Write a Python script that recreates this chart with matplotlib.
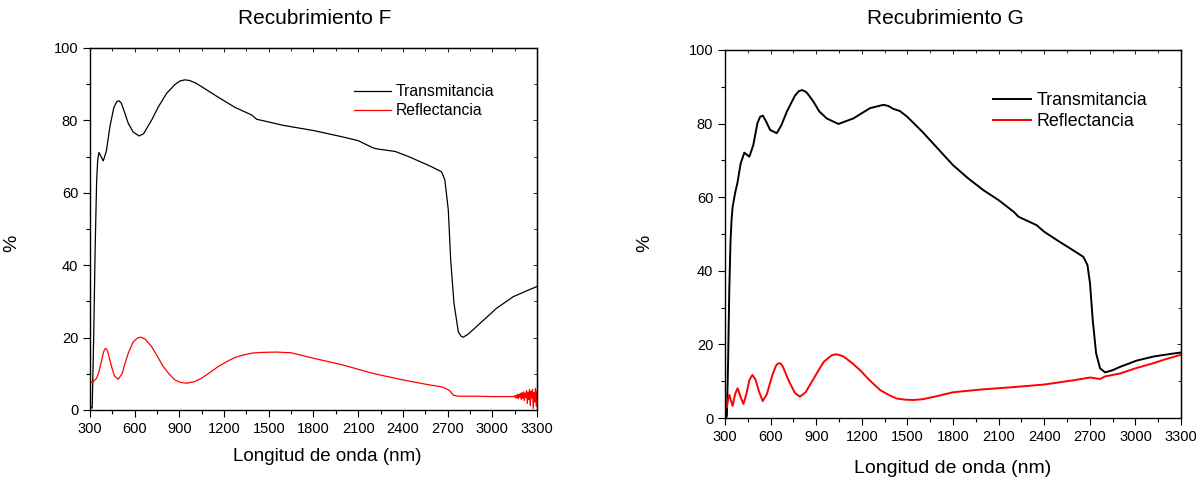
import numpy as np
import matplotlib
matplotlib.use("Agg")
import matplotlib.pyplot as plt
from matplotlib.ticker import MultipleLocator

plt.rcParams['font.family'] = ['Liberation Sans', 'DejaVu Sans']

# Recubrimiento F - transmitancia
wl_f_t = [300, 305, 315, 325, 335, 345, 352, 360, 372, 389, 410, 434, 460, 480, 495, 510,
          530, 557, 590, 629, 660, 714, 760, 815, 870, 905, 938, 970, 1010, 1050, 1161, 1273,
          1385, 1419, 1474, 1600, 1800, 2000, 2100, 2200, 2230, 2350, 2450, 2582, 2660, 2682,
          2705, 2721, 2743, 2772, 2790, 2805, 2840, 2917, 3029, 3141, 3253, 3300]
f_t = [1.0, 0.8, 0.5, 20.0, 45.0, 63.5, 69.0, 71.1, 70.2, 68.8, 71.5, 78.3, 83.5, 85.2, 85.4, 84.8,
       82.5, 79.2, 76.8, 75.7, 76.3, 80.1, 83.8, 87.5, 89.9, 90.9, 91.2, 91.0, 90.3, 89.3, 86.4, 83.6,
       81.5, 80.3, 79.8, 78.6, 77.2, 75.4, 74.4, 72.4, 72.1, 71.4, 69.8, 67.4, 65.8, 63.5,
       55.2, 41.4, 29.5, 21.6, 20.4, 20.1, 21.0, 23.9, 28.1, 31.3, 33.3, 34.1]

# Recubrimiento F - reflectancia
wl_f_r = [300, 316, 330, 345, 360, 374, 390, 398, 405, 412, 420, 445, 465, 490, 515, 535, 557, 590,
          620, 642, 670, 714, 750, 792, 830, 870, 910, 949, 1000, 1050, 1100, 1161, 1220,
          1273, 1330, 1385, 1450, 1550, 1650, 1800, 2000, 2200, 2400, 2582, 2660, 2690,
          2715, 2738, 2772, 2900, 3000, 3140,
          3145, 3150, 3155, 3160, 3165, 3170, 3175, 3180, 3185, 3190, 3195, 3200, 3205,
          3210, 3215, 3220, 3225, 3230, 3235, 3240, 3245, 3250, 3255, 3260, 3265, 3270,
          3275, 3280, 3285, 3290, 3295, 3300]
f_r = [8.0, 7.5, 8.2, 8.8, 10.5, 12.9, 15.8, 16.7, 17.0, 16.8, 16.0, 12.0, 9.3, 8.5, 10.0, 12.8, 15.7, 18.8,
       19.9, 20.1, 19.6, 17.5, 15.0, 12.0, 10.0, 8.3, 7.6, 7.4, 7.8, 8.8, 10.2, 12.0, 13.4,
       14.5, 15.2, 15.7, 15.9, 16.0, 15.8, 14.3, 12.4, 10.1, 8.3, 6.9, 6.4, 5.9,
       5.3, 4.1, 3.8, 3.8, 3.7, 3.7,
       3.7, 3.9, 3.4, 4.1, 3.3, 4.3, 3.1, 4.4, 3.5, 4.6, 2.9, 4.8, 3.2,
       5.0, 2.6, 4.7, 3.4, 5.3, 1.8, 4.9, 2.9, 5.6, 1.2, 5.1, 3.3, 5.7,
       0.4, 4.8, 2.2, 6.0, 1.0, 5.2]

# Recubrimiento G - transmitancia
wl_g_t = [300, 305, 312, 320, 328, 336, 343, 350, 366, 381, 403, 427, 445, 460, 486, 513,
          530, 548, 570, 596, 640, 670, 706, 760, 785, 805, 825, 840, 881, 920, 969, 1046, 1144,
          1254, 1342, 1374, 1407, 1451, 1500, 1600, 1700, 1800, 1900, 2000, 2100, 2200,
          2230, 2350, 2400, 2500, 2570, 2657, 2684, 2701, 2719, 2741, 2767, 2800, 2850,
          2899, 3008, 3118, 3228, 3300]
g_t = [0.0, 0.0, 0.5, 15.0, 35.0, 48.0, 54.0, 57.4, 61.1, 63.8, 69.2, 72.1, 71.5, 71.0, 74.2, 80.1,
       81.8, 82.2, 80.6, 78.3, 77.4, 79.5, 83.2, 87.6, 88.8, 89.1, 88.8, 88.3, 86.0, 83.3, 81.4, 79.9, 81.4,
       84.2, 85.1, 84.8, 84.0, 83.4, 81.8, 77.7, 73.2, 68.7, 65.1, 61.9, 59.2, 56.0,
       54.7, 52.4, 50.6, 47.9, 46.1, 43.8, 41.6, 36.6, 26.6, 17.6, 13.5, 12.4, 13.0,
       13.9, 15.6, 16.7, 17.4, 17.8]

# Recubrimiento G - reflectancia
wl_g_r = [300, 311, 320, 328, 337, 350, 366, 383, 400, 421, 440, 460, 480, 500, 525, 548,
          575, 610, 635, 645, 657, 668, 680, 720, 760, 793, 830, 870, 903, 950, 1000, 1015,
          1034, 1055, 1080, 1140, 1188, 1250, 1320, 1380, 1429, 1480, 1539, 1600, 1700, 1800,
          2000, 2200, 2400, 2600, 2701, 2767, 2800, 2899, 3000, 3118, 3200, 3300]
g_r = [2.6, 2.9, 5.0, 6.3, 5.0, 3.3, 6.5, 8.1, 6.0, 3.8, 6.5, 10.3, 11.7, 10.5, 7.0, 4.6,
       6.5, 11.5, 14.2, 14.7, 14.9, 14.7, 14.0, 10.0, 6.8, 5.8, 7.0, 9.8, 12.1, 15.3, 17.0, 17.2,
       17.3, 17.1, 16.7, 14.8, 13.0, 10.3, 7.6, 6.2, 5.3, 5.0, 4.9, 5.1, 6.0, 7.0,
       7.8, 8.4, 9.1, 10.3, 11.0, 10.6, 11.3, 12.1, 13.5, 14.9, 16.0, 17.2]

x_ticks = [300, 600, 900, 1200, 1500, 1800, 2100, 2400, 2700, 3000, 3300]
y_ticks = [0, 20, 40, 60, 80, 100]


def style_axes(ax, tick_size):
    ax.set_xlim(300, 3300)
    ax.set_ylim(0, 100)
    ax.set_xticks(x_ticks)
    ax.set_yticks(y_ticks)
    ax.xaxis.set_minor_locator(MultipleLocator(150))
    ax.yaxis.set_minor_locator(MultipleLocator(10))
    ax.tick_params(which='both', direction='out', labelsize=tick_size, width=0.8)
    ax.tick_params(which='major', length=5)
    ax.tick_params(which='minor', length=3)
    for sp in ax.spines.values():
        sp.set_linewidth(1.0)
    # inward ticks on top and right, Origin style
    top = ax.secondary_xaxis('top')
    top.set_xticks(x_ticks)
    top.xaxis.set_minor_locator(MultipleLocator(150))
    top.tick_params(which='both', direction='in', labeltop=False, width=0.6)
    top.tick_params(which='major', length=3)
    top.tick_params(which='minor', length=2)
    right = ax.secondary_yaxis('right')
    right.set_yticks(y_ticks)
    right.yaxis.set_minor_locator(MultipleLocator(10))
    right.tick_params(which='both', direction='in', labelright=False, width=0.6)
    right.tick_params(which='major', length=3)
    right.tick_params(which='minor', length=2)


fig = plt.figure(figsize=(12.01, 4.78), dpi=100)

ax1 = fig.add_axes([0.0749, 0.1423, 0.3722, 0.7573])
ax1.plot(wl_f_t, f_t, color='black', lw=0.9, label='Transmitancia')
ax1.plot(wl_f_r, f_r, color='red', lw=0.9, label='Reflectancia')
style_axes(ax1, 10.5)
ax1.set_xlabel('Longitud de onda (nm)', fontsize=13.5)
ax1.set_ylabel('%', fontsize=14)
ax1.xaxis.set_label_coords(0.53, -0.105)
ax1.yaxis.set_label_coords(-0.155, 0.46)
ax1.legend(loc='upper left', bbox_to_anchor=(0.59, 0.90), frameon=False, fontsize=11.3,
           handlelength=2.4, handletextpad=0.3, labelspacing=0.25, borderpad=0, borderaxespad=0)
fig.text(0.262, 1 - 18 / 478, 'Recubrimiento F', ha='center', va='center', fontsize=15)

ax2 = fig.add_axes([0.6037, 0.1255, 0.3797, 0.7699])
ax2.plot(wl_g_t, g_t, color='black', lw=1.4, label='Transmitancia')
ax2.plot(wl_g_r, g_r, color='red', lw=1.4, label='Reflectancia')
style_axes(ax2, 10.5)
ax2.set_xlabel('Longitud de onda (nm)', fontsize=14)
ax2.set_ylabel('%', fontsize=14)
ax2.xaxis.set_label_coords(0.5, -0.115)
ax2.yaxis.set_label_coords(-0.158, 0.475)
ax2.legend(loc='upper left', bbox_to_anchor=(0.588, 0.885), frameon=False, fontsize=12.8,
           handlelength=2.15, handletextpad=0.3, labelspacing=0.2, borderpad=0, borderaxespad=0)
fig.text(0.787, 1 - 18 / 478, 'Recubrimiento G', ha='center', va='center', fontsize=15)

fig.savefig('out.png', dpi=100)
